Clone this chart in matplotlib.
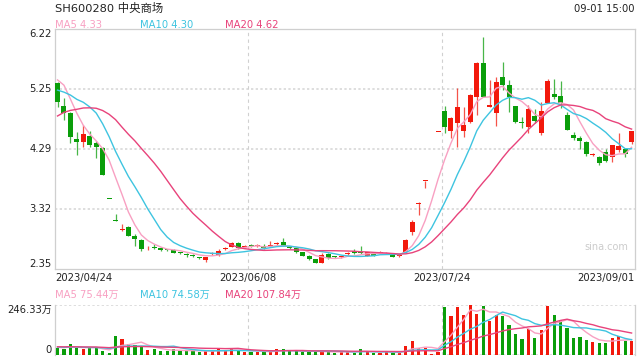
import numpy as np
import matplotlib
matplotlib.use('Agg')
import matplotlib.pyplot as plt

plt.rcParams['font.family'] = ['DejaVu Sans', 'Noto Sans CJK SC']

title = 'SH600280 中央商场'
timestamp = '09-01 15:00'
tick_labels = ['2023/04/24', '2023/06/08', '2023/07/24', '2023/09/01']
tick_index = [0, 30, 60, 89]
y_ticks = [2.35, 3.32, 4.29, 5.25, 6.22]
vol_max = 246.33

opens = [5.344, 4.978, 4.870, 4.446, 4.403, 4.500, 4.377, 4.296, 3.479, 3.130,
         2.975, 3.032, 2.887, 2.818, 2.665, 2.700, 2.694, 2.660, 2.656, 2.607,
         2.580, 2.565, 2.536, 2.495, 2.590, 2.576, 2.668, 2.710, 2.764, 2.705,
         2.730, 2.720, 2.726, 2.720, 2.758, 2.780, 2.710, 2.684, 2.619, 2.565,
         2.506, 2.452, 2.587, 2.542, 2.544, 2.588, 2.645, 2.620, 2.565, 2.603,
         2.615, 2.600, 2.587, 2.556, 2.629, 2.951, 3.400, 3.770, 4.150, 4.560,
         4.898, 4.580, 4.709, 4.580, 4.725, 5.128, 5.677, 4.957, 4.870, 5.451,
         5.317, 4.978, 4.715, 4.645, 4.817, 4.538, 5.022, 5.172, 5.140, 4.833,
         4.511, 4.457, 4.403, 4.183, 4.161, 4.242, 4.161, 4.269, 4.280, 4.403]
highs = [5.360, 5.112, 4.887, 4.564, 4.672, 4.575, 4.419, 4.312, 3.479, 3.237,
         3.076, 3.040, 2.914, 2.830, 2.721, 2.748, 2.700, 2.670, 2.665, 2.620,
         2.600, 2.590, 2.550, 2.550, 2.620, 2.668, 2.700, 2.790, 2.790, 2.740,
         2.750, 2.750, 2.750, 2.800, 2.790, 2.845, 2.720, 2.690, 2.620, 2.570,
         2.510, 2.603, 2.603, 2.560, 2.560, 2.630, 2.670, 2.720, 2.630, 2.610,
         2.640, 2.620, 2.590, 2.570, 2.834, 3.140, 3.435, 3.770, 4.150, 4.560,
         4.978, 4.796, 5.273, 4.957, 5.172, 5.693, 6.086, 5.398, 5.451, 5.693,
         5.398, 4.980, 4.806, 4.995, 4.925, 5.048, 5.409, 5.409, 5.382, 4.886,
         4.564, 4.495, 4.410, 4.220, 4.170, 4.280, 4.350, 4.538, 4.296, 4.580]
lows = [4.967, 4.753, 4.387, 4.188, 4.312, 4.312, 4.135, 3.860, 3.479, 3.124,
        2.970, 2.880, 2.721, 2.645, 2.656, 2.673, 2.645, 2.640, 2.600, 2.590,
        2.550, 2.545, 2.510, 2.468, 2.580, 2.560, 2.650, 2.700, 2.675, 2.690,
        2.700, 2.700, 2.675, 2.710, 2.740, 2.720, 2.680, 2.610, 2.560, 2.500,
        2.450, 2.442, 2.510, 2.520, 2.530, 2.570, 2.590, 2.590, 2.560, 2.560,
        2.600, 2.590, 2.545, 2.545, 2.613, 2.898, 3.221, 3.651, 4.150, 4.560,
        4.548, 4.467, 4.322, 4.483, 4.709, 4.833, 5.128, 4.957, 4.656, 5.236,
        4.886, 4.699, 4.619, 4.538, 4.699, 4.511, 5.020, 5.086, 4.941, 4.590,
        4.430, 4.280, 4.172, 4.170, 4.027, 4.080, 4.080, 4.242, 4.151, 4.366]
closes = [5.048, 4.870, 4.483, 4.403, 4.527, 4.350, 4.312, 3.866, 3.479, 3.124,
          2.979, 2.887, 2.829, 2.673, 2.673, 2.694, 2.656, 2.656, 2.613, 2.603,
          2.576, 2.560, 2.532, 2.548, 2.597, 2.640, 2.673, 2.774, 2.684, 2.710,
          2.726, 2.726, 2.684, 2.726, 2.764, 2.720, 2.684, 2.619, 2.565, 2.511,
          2.452, 2.576, 2.523, 2.538, 2.548, 2.592, 2.603, 2.615, 2.619, 2.565,
          2.619, 2.608, 2.550, 2.560, 2.818, 3.100, 3.410, 3.770, 4.150, 4.560,
          4.645, 4.780, 4.957, 4.672, 5.156, 5.677, 5.128, 4.995, 5.370, 5.317,
          5.128, 4.725, 4.709, 4.925, 4.737, 4.898, 5.382, 5.119, 5.022, 4.591,
          4.457, 4.419, 4.204, 4.188, 4.054, 4.096, 4.350, 4.334, 4.204, 4.580]
volumes = [32.6, 29.0, 53.7, 35.8, 29.0, 32.6, 35.8, 19.5, 8.0, 92.7,
           78.0, 53.7, 48.8, 40.6, 24.4, 27.6, 19.5, 19.5, 27.6, 21.0,
           19.5, 19.5, 16.0, 19.5, 19.5, 29.0, 19.5, 29.0, 24.4, 16.0,
           16.0, 16.0, 16.0, 16.0, 29.0, 29.0, 21.0, 21.0, 16.0, 16.0,
           16.0, 16.0, 16.0, 11.0, 16.0, 16.0, 11.0, 29.0, 16.0, 11.0,
           11.0, 16.0, 11.0, 11.0, 44.0, 68.0, 32.6, 35.8, 5.0, 16.0,
           235.5, 190.0, 235.0, 195.0, 246.33, 200.0, 240.6, 167.0, 195.0, 190.0,
           146.0, 102.0, 78.0, 127.0, 84.5, 122.0, 240.6, 195.0, 171.0, 133.0,
           84.5, 89.0, 73.0, 65.0, 57.0, 60.0, 84.5, 92.7, 70.0, 70.0]
# estimated closes / volumes of the 19 sessions before the window (for the MAs)
prior_closes = [3.70, 3.85, 4.05, 4.10, 4.30, 4.45, 4.60, 4.70, 4.85, 5.40,
                5.20, 4.95, 5.10, 5.00, 5.10, 5.30, 5.60, 5.55, 5.50]
prior_volumes = [38, 42, 45, 40, 36, 44, 48, 40, 38, 42,
                 45, 40, 36, 40, 44, 38, 35, 40, 42]
ma_windows = [5, 10, 20]
ma_price_labels = [4.33, 4.30, 4.62]
ma_vol_labels = [75.44, 74.58, 107.84]

ma_colors = ['#f8a0c2', '#3ec4e0', '#e8437b']
up_color = '#f2190c'
down_color = '#0a9e0a'
W, H = 640, 360


def fx(x):
    return x / W


def fy(y):
    return 1 - y / H


fig = plt.figure(figsize=(6.4, 3.6), dpi=100)
ax = fig.add_axes([fx(55), fy(269), 580 / W, 240 / H])
axv = fig.add_axes([fx(55), fy(355), 580 / W, 50.5 / H])

n = len(closes)
xs = np.arange(n)
o = np.array(opens); c = np.array(closes); h = np.array(highs); l = np.array(lows)
prev = np.concatenate([[prior_closes[-1]], c[:-1]])
is_up = np.where(c > o, True, np.where(c < o, False, c >= prev))
colors = [up_color if u else down_color for u in is_up]

# candles
ax.vlines(xs, l, h, colors=colors, linewidth=0.9, alpha=0.75, zorder=3)
body_h = np.maximum(np.abs(c - o), 0.014)
ax.bar(xs, body_h, bottom=np.minimum(o, c), width=0.78, color=colors,
       linewidth=0, zorder=4)

# moving averages
allc = np.array(prior_closes + closes)
allv = np.array(prior_volumes + volumes)
for win, col in zip(ma_windows, ma_colors):
    ma = np.convolve(allc, np.ones(win) / win, mode='valid')[-n:]
    ax.plot(xs, ma, color=col, lw=1.0, zorder=5)
    mav = np.convolve(allv, np.ones(win) / win, mode='valid')[-n:]
    axv.plot(xs, mav, color=col, lw=1.0, zorder=5)

axv.bar(xs, volumes, width=0.5, color=colors, linewidth=0, zorder=3)

xlim = (-0.39, 89.53)
ax.set_xlim(*xlim)
axv.set_xlim(*xlim)
ax.set_ylim(y_ticks[0], y_ticks[-1])
axv.set_ylim(0, vol_max)

for a in (ax, axv):
    a.set_xticks([]); a.set_yticks([])
    for s in a.spines.values():
        s.set_color('#cfcfcf'); s.set_linewidth(0.9)
axv.spines['top'].set_visible(False)
axv.spines['bottom'].set_visible(False)

grid_kw = dict(color='#dedede', lw=1.4, linestyle=(0, (1.2, 1.2)), zorder=1)
for yt in y_ticks[1:-1]:
    ax.axhline(yt, **grid_kw)
axv.axhline(vol_max, **grid_kw)
axv.axhline(0, **grid_kw)
for ti in tick_index[1:3]:
    ax.axvline(ti - 0.45, color='#d0d0d0', lw=0.8, linestyle=(0, (3, 3)), zorder=1)
    axv.axvline(ti - 0.45, color='#d0d0d0', lw=0.8, linestyle=(0, (3, 3)), zorder=1)

# y labels
fs = 7.2
for k, yt in enumerate(y_ticks):
    va = 'top' if k == len(y_ticks) - 1 else ('bottom' if k == 0 else 'center')
    ax.text(-0.006, yt, f'{yt:.2f}', transform=ax.get_yaxis_transform(),
            ha='right', va=va, fontsize=fs, color='#222222')
axv.text(-0.006, vol_max, f'{vol_max:.2f}万', transform=axv.get_yaxis_transform(),
         ha='right', va='top', fontsize=fs, color='#222222')
axv.text(-0.006, 0, '0', transform=axv.get_yaxis_transform(),
         ha='right', va='bottom', fontsize=fs, color='#222222')

# x labels
for k, (ti, lab) in enumerate(zip(tick_index, tick_labels)):
    if k == 0:
        fig.text(fx(55), fy(277.5), lab, ha='left', va='center', fontsize=fs, color='#222222')
    elif k == len(tick_index) - 1:
        fig.text(fx(635), fy(277.5), lab, ha='right', va='center', fontsize=fs, color='#222222')
    else:
        xd = ax.transData.transform((ti - 0.45, 0))[0]
        fig.text(xd / fig.dpi / 6.4, fy(277.5), lab, ha='center', va='center',
                 fontsize=fs, color='#222222')

# header
fig.text(fx(55), fy(8.5), title, ha='left', va='center', fontsize=8.2, color='#222222')
fig.text(fx(634), fy(9), timestamp, ha='right', va='center', fontsize=fs, color='#222222')
label_x = [55, 140, 225]
for win, col, val, lx in zip(ma_windows, ma_colors, ma_price_labels, label_x):
    fig.text(fx(lx), fy(24.5), f'MA{win} {val:.2f}', ha='left', va='center',
             fontsize=fs, color=col)
for win, col, val, lx in zip(ma_windows, ma_colors, ma_vol_labels, label_x):
    fig.text(fx(lx), fy(295), f'MA{win} {val:.2f}万', ha='left', va='center',
             fontsize=fs, color=col)

fig.text(fx(606), fy(247), 'sina.com', ha='center', va='center', fontsize=7,
         color='#cccccc')

fig.savefig('out.png', dpi=100)
